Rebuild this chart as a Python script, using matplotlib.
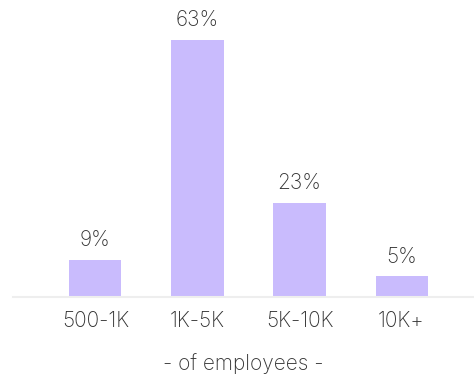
import matplotlib
matplotlib.use("Agg")
from matplotlib import pyplot as plt

plt.rcParams['font.family'] = ['Inter', 'DejaVu Sans']
plt.rcParams['font.weight'] = 'light'

sizes = ["500-1K", "1K-5K", "5K-10K", "10K+"]
shares = [9, 63, 23, 5]
share_labels = ["9%", "63%", "23%", "5%"]

fig = plt.figure(figsize=(4.74, 3.75), dpi=100)
ax = fig.add_axes([0.027, 0.209, 0.973, 0.791])

x = range(len(sizes))
bars = ax.bar(x, shares, width=0.51, color="#c9bbfd", zorder=2)

for b, lab in zip(bars, share_labels):
    ax.annotate(lab, (b.get_x() + b.get_width() / 2, b.get_height()),
                xytext=(0, 7), textcoords="offset points", ha="center", va="bottom",
                fontsize=15, color="#333333", fontweight="light")

ax.set_xlim(-0.81, 3.71)
ax.set_ylim(0, 72.8)
ax.set_xticks(list(x))
ax.set_xticklabels(sizes, fontsize=15, color="#333333", fontweight="light")
ax.tick_params(axis="x", length=0, pad=10)
ax.set_yticks([])
ax.set_xlabel("- of employees -", fontsize=15, color="#333333", fontweight="light", labelpad=16)

for s in ["top", "right", "left"]:
    ax.spines[s].set_visible(False)
ax.spines["bottom"].set_color("#eeeeee")
ax.spines["bottom"].set_linewidth(1.5)

fig.savefig("out.png", dpi=100)
